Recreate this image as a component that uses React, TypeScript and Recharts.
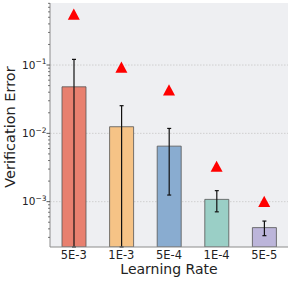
import {
  Bar,
  CartesianGrid,
  Cell,
  ComposedChart,
  ErrorBar,
  Line,
  XAxis,
  YAxis,
} from "recharts";

const CATEGORIES = ["5E-3", "1E-3", "5E-4", "1E-4", "5E-5"];
const MEAN_ERROR = [0.048, 0.0125, 0.0065, 0.00108, 0.000417];
const ERROR_HIGH = [0.121, 0.0254, 0.0118, 0.00145, 0.00052];
// lower ends of the first two bars fall below the axis floor
const ERROR_LOW = [0.000217, 0.000217, 0.00125, 0.00071, 0.000318];
const REFERENCE = [0.555, 0.093, 0.0434, 0.0033, 0.00101];
const BAR_COLORS = ["#e8806f", "#f6c386", "#89acd0", "#9acfc6", "#bcb5da"];

const MAJOR_TICKS = [0.001, 0.01, 0.1];
const MINOR_TICKS = [
  0.0003, 0.0004, 0.0005, 0.0006, 0.0007, 0.0008, 0.0009,
  0.002, 0.003, 0.004, 0.005, 0.006, 0.007, 0.008, 0.009,
  0.02, 0.03, 0.04, 0.05, 0.06, 0.07, 0.08, 0.09,
  0.2, 0.3, 0.4, 0.5, 0.6, 0.7, 0.8,
];
const Y_DOMAIN: [number, number] = [0.000217, 0.809];

const FONT = "DejaVu Sans";
const AXIS_GRAY = "#8c8c8c";

const data = CATEGORIES.map((lr, i) => ({
  lr,
  mean: MEAN_ERROR[i],
  err: [MEAN_ERROR[i] - ERROR_LOW[i], ERROR_HIGH[i] - MEAN_ERROR[i]],
  refErr: REFERENCE[i],
}));

function renderYTick(props: any) {
  const { x, y, payload } = props;
  const exp = Math.log10(payload.value);
  const major = Math.abs(exp - Math.round(exp)) < 1e-6;
  if (!major) {
    return <line x1={x - 2} x2={x} y1={y} y2={y} stroke="#555" strokeWidth={0.8} />;
  }
  return (
    <g>
      <line x1={x - 3.5} x2={x} y1={y} y2={y} stroke="#444" strokeWidth={0.9} />
      <text x={x - 3.5} y={y} textAnchor="end" fontFamily={FONT} fill="#222">
        <tspan fontSize={10.5} dy={3.8}>10</tspan>
        <tspan fontSize={7.5} dy={-4.5}>{`\u2212${Math.abs(Math.round(exp))}`}</tspan>
      </text>
    </g>
  );
}

function renderTriangle(props: any) {
  const { cx, cy, index } = props;
  if (cx == null || cy == null) return <g key={`tri-${index}`} />;
  const w = 6;
  const h = 5.6;
  return (
    <polygon
      key={`tri-${index}`}
      points={`${cx},${cy - h} ${cx - w},${cy + h} ${cx + w},${cy + h}`}
      fill="#ff0000"
    />
  );
}

function renderYLabel() {
  const cy = 127;
  return (
    <text
      x={15}
      y={cy}
      transform={`rotate(-90, 15, ${cy})`}
      textAnchor="middle"
      fontFamily={FONT}
      fontSize={14.5}
      fill="#222"
    >
      Verification Error
    </text>
  );
}

function renderXLabel(props: any) {
  const vb = props.viewBox || {};
  const cx = (vb.x ?? 50) + (vb.width ?? 238) / 2;
  return (
    <text x={cx} y={273.5} textAnchor="middle" fontFamily={FONT} fontSize={14} fill="#222">
      Learning Rate
    </text>
  );
}

export default function App() {
  return (
    <div style={{ position: "absolute", left: 0, top: 0 }}>
      <ComposedChart
        width={291}
        height={281}
        data={data}
        margin={{ top: 3, right: 3, bottom: 0, left: 0 }}
      >
        <CartesianGrid
          vertical={false}
          horizontalValues={MAJOR_TICKS}
          fill="#eeeff2"
          stroke="#c8c8c8"
          strokeDasharray="1.5 1.5"
          strokeWidth={0.8}
        />
        <XAxis
          dataKey="lr"
          height={34}
          tickSize={0}
          tickMargin={4}
          tickLine={false}
          axisLine={{ stroke: AXIS_GRAY }}
          tick={{ fontSize: 11.5, fontFamily: FONT, fill: "#222" }}
          label={{ content: renderXLabel }}
        />
        <YAxis
          scale="log"
          domain={Y_DOMAIN}
          allowDataOverflow
          ticks={[...MINOR_TICKS, ...MAJOR_TICKS].sort((a, b) => a - b)}
          interval={0}
          width={50}
          tickSize={0}
          tickMargin={0}
          tickLine={false}
          axisLine={{ stroke: AXIS_GRAY }}
          tick={renderYTick}
          label={{ content: renderYLabel }}
        />
        <Bar dataKey="mean" barSize={24} stroke="#555" strokeOpacity={0.8} strokeWidth={1} isAnimationActive={false}>
          {data.map((d, i) => (
            <Cell key={d.lr} fill={BAR_COLORS[i]} />
          ))}
          <ErrorBar dataKey="err" width={2} stroke="#111" strokeWidth={1.2} direction="y" />
        </Bar>
        <Line
          dataKey="refErr"
          stroke="none"
          dot={renderTriangle}
          activeDot={false}
          isAnimationActive={false}
        />
      </ComposedChart>
    </div>
  );
}
